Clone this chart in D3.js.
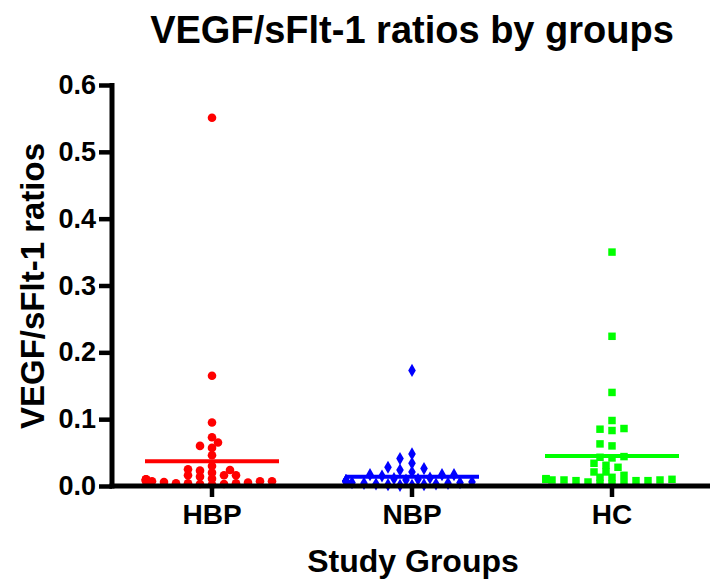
<!DOCTYPE html>
<html>
<head>
<meta charset="utf-8">
<script src="https://cdn.jsdelivr.net/npm/d3@7"></script>
<style>
  body { margin: 0; background: #fff; }
  text { font-family: "Liberation Sans", Arial, sans-serif; font-weight: bold; }
</style>
</head>
<body>
<div id="chart"></div>
<script>
// groups + values
var groups = ["HBP", "NBP", "HC"];
var colors = ["#ff0000", "#0000ff", "#00ff00"];
var shapes = ["circle", "diamond", "square"];

var hbp = [0.551, 0.165, 0.095, 0.073, 0.065, 0.060, 0.057, 0.046, 0.030, 0.025,
  0.024, 0.023, 0.020, 0.016, 0.016, 0.016, 0.014, 0.011, 0.010, 0.010,
  0.009, 0.009, 0.008, 0.007, 0.007, 0.007, 0.007, 0.006, 0.005, 0.004,
  0.004, 0.004, 0.003, 0.003, 0.002];
var nbp = [0.173, 0.048, 0.041, 0.034, 0.028, 0.026, 0.024, 0.021, 0.017, 0.017,
  0.017, 0.015, 0.012, 0.011, 0.010, 0.009, 0.008, 0.008, 0.007, 0.007,
  0.007, 0.007, 0.006, 0.006, 0.005, 0.005, 0.004, 0.004, 0.003,
  0.003, 0.002, 0.002, 0.001, 0.001];
var hc = [0.350, 0.224, 0.140, 0.098, 0.086, 0.085, 0.083, 0.063, 0.060, 0.044,
  0.043, 0.042, 0.034, 0.031, 0.028, 0.021, 0.021, 0.016, 0.013, 0.013,
  0.011, 0.010, 0.010, 0.010, 0.009, 0.009, 0.009, 0.008, 0.008, 0.008,
  0.006, 0.005, 0.004, 0.003];
var means = [0.037, 0.014, 0.045];
var yTicks = [0, 0.1, 0.2, 0.3, 0.4, 0.5, 0.6];

var series = [hbp, nbp, hc];

var W = 710, H = 588;
var margin = { top: 85, right: -2, bottom: 102, left: 112 };

var svg = d3.select("#chart").append("svg")
  .attr("width", W)
  .attr("height", H);

var x = d3.scaleBand().domain(groups).range([margin.left, W - margin.right]);
var y = d3.scaleLinear().domain([0, 0.6]).range([H - margin.bottom, margin.top]);

// title
svg.append("text")
  .attr("x", 412).attr("y", 43)
  .attr("text-anchor", "middle")
  .style("font-size", "38px")
  .text("VEGF/sFlt-1 ratios by groups");

// beeswarm-ish placement, like prism column scatter
function swarm(vals) {
  var placed = [];
  var sorted = vals.slice().sort(function (a, b) { return a - b; });
  sorted.forEach(function (v) {
    var py = y(v);
    var k = 0, off = 0;
    while (true) {
      off = (k % 2 === 0 ? 1 : -1) * Math.ceil(k / 2) * 6;
      var hit = placed.some(function (p) {
        var ex = (p.dx - off) / 11.5, ey = (p.py - py) / 5.5;
        return ex * ex + ey * ey < 1;
      });
      if (!hit || Math.abs(off) > 60) break;
      k++;
    }
    placed.push({ v: v, dx: off, py: py });
  });
  return placed;
}

var sym = {
  circle: d3.symbol().type(d3.symbolCircle).size(58),
  diamond: d3.symbol().type(d3.symbolDiamond).size(50),
  square: d3.symbol().type(d3.symbolSquare).size(56)
};

series.forEach(function (vals, i) {
  var cx = x(groups[i]) + x.bandwidth() / 2;
  var g = svg.append("g");
  g.selectAll("path")
    .data(swarm(vals))
    .enter().append("path")
    .attr("d", sym[shapes[i]]())
    .attr("transform", function (d) { return "translate(" + (cx + d.dx) + "," + d.py + ")"; })
    .attr("fill", colors[i]);

  // mean line
  g.append("line")
    .attr("x1", cx - 67).attr("x2", cx + 67)
    .attr("y1", y(means[i])).attr("y2", y(means[i]))
    .attr("stroke", colors[i])
    .attr("stroke-width", 4);
});

// Y axis
var yAxis = svg.append("g")
  .attr("transform", "translate(" + margin.left + ",0)")
  .call(d3.axisLeft(y).tickValues(yTicks).tickFormat(d3.format(".1f")).tickSize(13).tickPadding(3));

// X axis
var xAxis = svg.append("g")
  .attr("transform", "translate(0," + (H - margin.bottom) + ")")
  .call(d3.axisBottom(x).tickSize(11).tickPadding(7));

[yAxis, xAxis].forEach(function (a) {
  a.select(".domain").attr("stroke-width", 5).attr("stroke", "#000");
  a.selectAll(".tick line").attr("stroke-width", 4.5).attr("stroke", "#000");
  a.selectAll("text").attr("fill", "#000")
    .style("font-family", "'Liberation Sans', Arial, sans-serif")
    .style("font-weight", "bold");
});
yAxis.selectAll("text").style("font-size", "27px");
xAxis.selectAll("text").style("font-size", "28px");
// prism style: no outer tick caps
yAxis.select(".domain").attr("d", "M0," + (margin.top - 2) + "V" + (H - margin.bottom + 2.5));
xAxis.select(".domain").attr("d", "M" + (margin.left - 2.5) + ",0H" + W);

// axis titles
svg.append("text")
  .attr("transform", "translate(44,286) rotate(-90)")
  .attr("text-anchor", "middle")
  .style("font-size", "33px")
  .text("VEGF/sFlt-1 ratios");

svg.append("text")
  .attr("x", 413).attr("y", 572)
  .attr("text-anchor", "middle")
  .style("font-size", "32px")
  .text("Study Groups");
</script>
</body>
</html>
